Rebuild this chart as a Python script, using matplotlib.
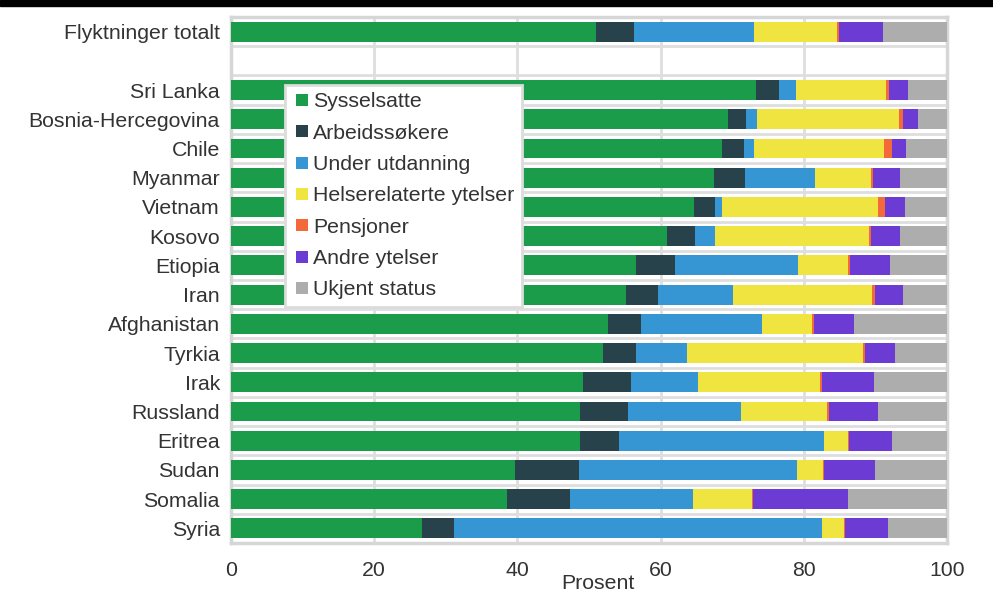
import matplotlib.pyplot as plt
from matplotlib.lines import Line2D
from matplotlib.patches import Rectangle

plt.rcParams["font.family"] = ["Liberation Sans", "DejaVu Sans"]

# ---------------------------------------------------------------
# Data (share of each group, percent)
# ---------------------------------------------------------------
groups = ["Flyktninger totalt", "", "Sri Lanka", "Bosnia-Hercegovina", "Chile",
          "Myanmar", "Vietnam", "Kosovo", "Etiopia", "Iran", "Afghanistan",
          "Tyrkia", "Irak", "Russland", "Eritrea", "Sudan", "Somalia", "Syria"]

series = ["Sysselsatte", "Arbeidssøkere", "Under utdanning",
          "Helserelaterte ytelser", "Pensjoner", "Andre ytelser", "Ukjent status"]

# one value per group (None for the empty spacer row)
sysselsatte = [51.0, None, 73.3, 69.4, 68.6, 67.5, 64.6, 60.9, 56.6, 55.1,
               52.6, 52.0, 49.1, 48.7, 48.7, 39.6, 38.6, 26.7]
arbeidssokere = [5.3, None, 3.2, 2.5, 3.0, 4.3, 3.0, 3.9, 5.4, 4.5,
                 4.7, 4.6, 6.7, 6.8, 5.5, 9.0, 8.8, 4.5]
utdanning = [16.7, None, 2.4, 1.6, 1.4, 9.8, 1.0, 2.8, 17.2, 10.5,
             16.9, 7.1, 9.4, 15.7, 28.6, 30.4, 17.1, 51.3]
helse = [11.6, None, 12.6, 19.8, 18.2, 7.8, 21.7, 21.5, 7.0, 19.4,
         7.0, 24.5, 17.1, 12.0, 3.4, 3.7, 8.2, 3.1]
pensjoner = [0.3, None, 0.4, 0.5, 1.1, 0.2, 1.1, 0.3, 0.2, 0.4,
             0.2, 0.4, 0.2, 0.3, 0.1, 0.1, 0.2, 0.1]
andre = [6.2, None, 2.7, 2.2, 2.0, 3.8, 2.7, 4.1, 5.6, 3.9,
         5.6, 4.2, 7.3, 6.9, 6.0, 7.1, 13.3, 6.0]
ukjent = [8.9, None, 5.4, 4.0, 5.7, 6.6, 5.9, 6.5, 8.0, 6.2,
          13.0, 7.2, 10.2, 9.6, 7.7, 10.1, 13.8, 8.4]

values = [sysselsatte, arbeidssokere, utdanning, helse, pensjoner, andre, ukjent]
colors = ["#1b9c4b", "#27424a", "#3696d3", "#f0e441", "#f4693a", "#6b3bd4", "#adadad"]

text_color = "#333333"
grid_color = "#dedede"
fs = 15.3

# ---------------------------------------------------------------
# Chart
# ---------------------------------------------------------------
fig = plt.figure(figsize=(9.93, 5.94), dpi=100)
W, H = 993, 594
ax = fig.add_axes([231 / W, 1 - 543 / H, (947 - 231) / W, (543 - 17) / H])

rows = [i for i, g in enumerate(groups) if g]
left = [0.0] * len(groups)
for name, vals, col in zip(series, values, colors):
    ws = [vals[i] for i in rows]
    ls = [left[i] for i in rows]
    ax.barh(rows, ws, left=ls, height=0.68, color=col, linewidth=0, zorder=3)
    for i in rows:
        left[i] += vals[i]

ax.set_xlim(0, 100)
ax.set_ylim(len(groups) - 0.5, -0.5)
ax.set_yticks(range(len(groups)))
ax.set_yticklabels(groups)
ax.set_xticks([0, 20, 40, 60, 80, 100])
ax.tick_params(axis="both", length=0, labelsize=fs, labelcolor=text_color)
ax.tick_params(axis="y", pad=8)
ax.tick_params(axis="x", pad=13)

# grid: vertical at ticks, horizontal at row boundaries
for x in [20, 40, 60, 80]:
    ax.axvline(x, color=grid_color, lw=2, zorder=1)
for k in range(len(groups) - 1):
    ax.axhline(k + 0.5, color=grid_color, lw=2, zorder=1)

for s in ax.spines.values():
    s.set_color("#d6d6d6")
    s.set_linewidth(2.5)

ax.set_xlabel("Prosent", fontsize=fs, color=text_color)
ax.xaxis.set_label_coords((598 - 231) / 716, -0.058)

handles = [Line2D([], [], marker="s", linestyle="", markersize=8,
                  markerfacecolor=c, markeredgewidth=0) for c in colors]
leg = ax.legend(handles, series, loc="upper left",
                bbox_to_anchor=((285 - 231) / 716, 1 - (85 - 17) / 526),
                fontsize=fs, frameon=True, fancybox=False, framealpha=1,
                labelspacing=0.58, handlelength=0.86, handletextpad=0.12,
                borderpad=0.35, borderaxespad=0)
leg.get_frame().set_edgecolor("#dcdcdc")
leg.get_frame().set_linewidth(2)
for t in leg.get_texts():
    t.set_color(text_color)
leg.set_zorder(5)

# black band at the very top
fig.patches.append(Rectangle((0, 1 - 6 / H), 1, 6 / H, transform=fig.transFigure,
                             color="black", zorder=10))

plt.savefig("out.png", dpi=100)
plt.close()
